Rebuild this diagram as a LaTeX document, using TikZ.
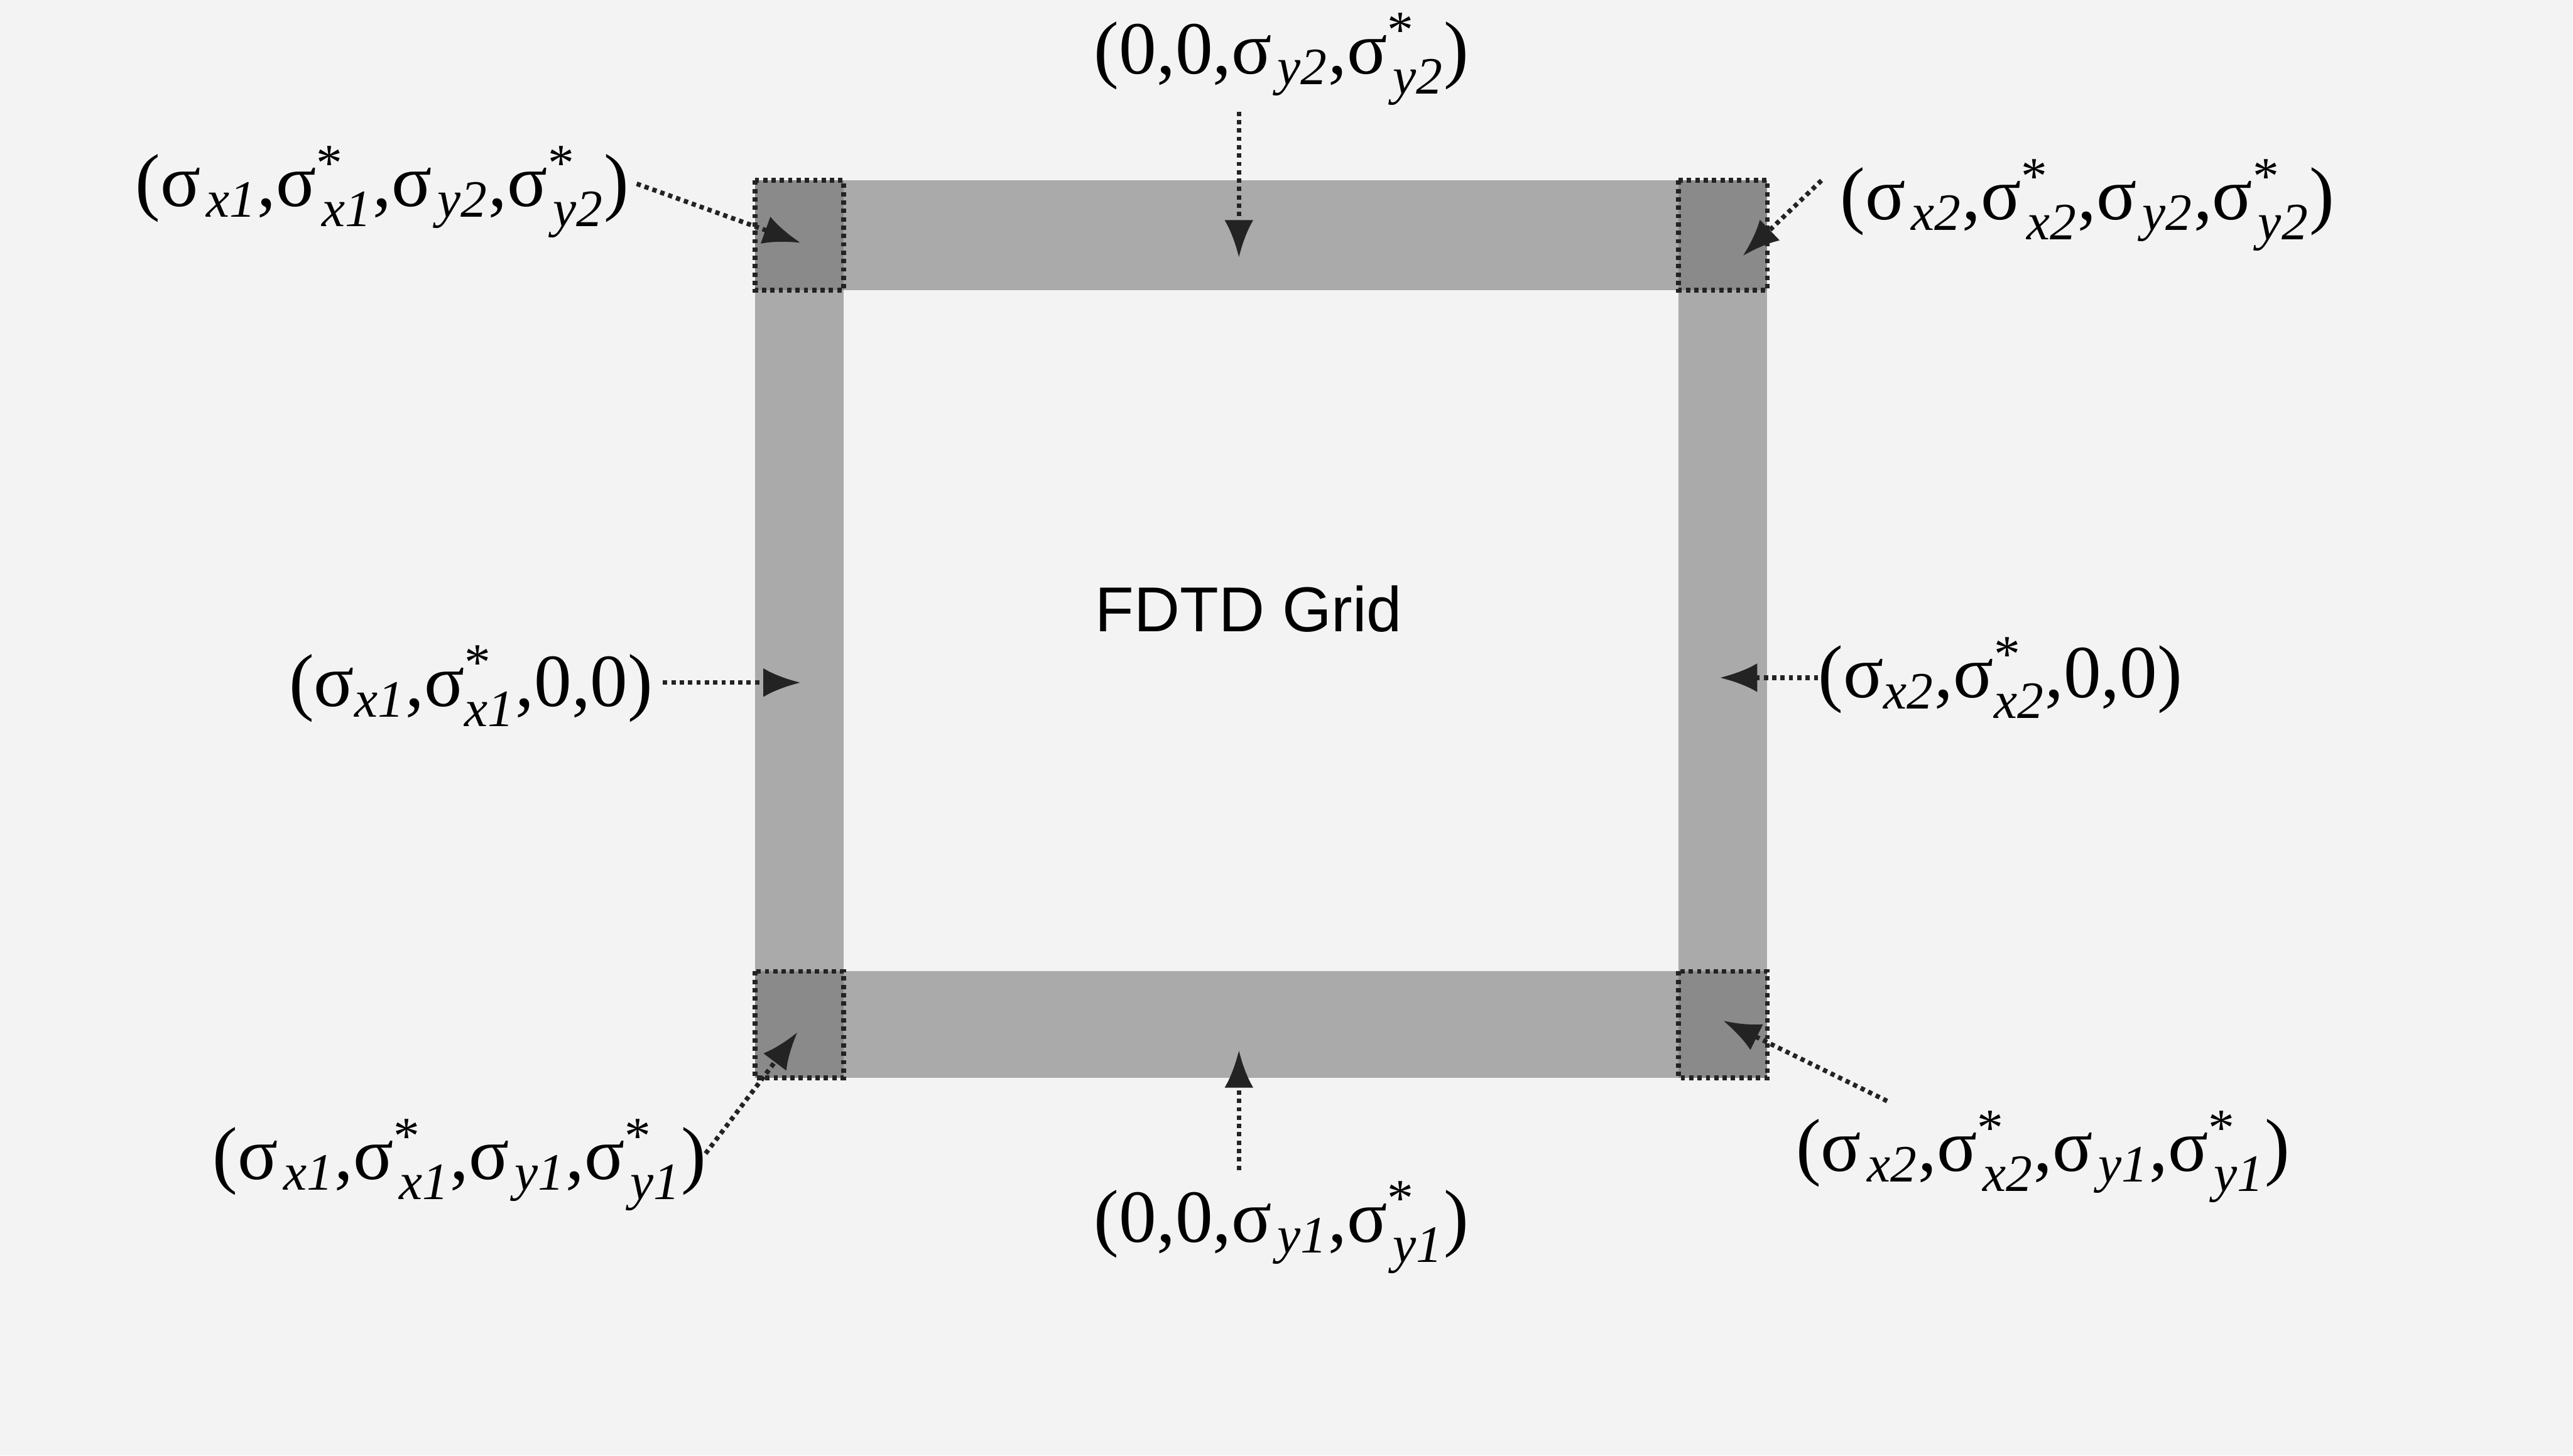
\documentclass[tikz,border=0pt]{standalone}
\usepackage{amsmath}
\usepackage{fontspec}
\setmainfont{Liberation Serif}
\setsansfont{Liberation Sans}
\usetikzlibrary{arrows.meta}
\definecolor{bg}{RGB}{243,243,243}
\definecolor{bandgray}{RGB}{170,170,170}
\definecolor{cornergray}{RGB}{138,138,138}
\definecolor{dotcol}{RGB}{35,35,35}
\newcommand\sgA[1]{$\text{σ}_{\mkern2mu\text{\itshape #1}}$}
\newcommand\sgB[1]{$\text{σ}^{\text{*}}_{\mkern2mu\text{\itshape #1}}$}
\newcommand\sgC[1]{$\text{σ}_{\text{\itshape #1}}$}
\newcommand\sgD[1]{$\text{σ}^{\text{*}}_{\text{\itshape #1}}$}
\begin{document}
\begin{tikzpicture}[x=0.02cm,y=-0.02cm,
  lbl/.style={font=\fontsize{26}{30}\selectfont, inner sep=0pt},
  ttl/.style={font=\sffamily\fontsize{22}{26}\selectfont, inner sep=0pt},
  bandfill/.style={fill=bandgray},
  cornerbox/.style={fill=cornergray, draw=dotcol, line width=1.7pt, dash pattern=on 1.5pt off 1.4pt},
  ptr/.style={draw=dotcol, line width=1.6pt, dash pattern=on 1.5pt off 1.4pt, -{Latex[length=13pt,width=10pt]}}]
\path[fill=bg] (0,0) rectangle (1568,887);
\useasboundingbox (0,0) rectangle (1568,887);
% bands
\path[bandfill] (460,110) rectangle (1077,177);
\path[bandfill] (460,592) rectangle (1077,657);
\path[bandfill] (460,110) rectangle (514,657);
\path[bandfill] (1023,110) rectangle (1077,657);
% corners
\path[cornerbox] (460,110) rectangle (514,177);
\path[cornerbox] (1023,110) rectangle (1077,177);
\path[cornerbox] (460,592) rectangle (514,657);
\path[cornerbox] (1023,592) rectangle (1077,657);
% title
\node[ttl] (title) at (761,371) {FDTD Grid};
% labels
\node[lbl] (lt)  at (781,36)   {(0,0,\sgA{y2},\sgB{y2})};
\node[lbl] (ltl) at (233,117)  {(\sgA{x1},\sgB{x1},\sgA{y2},\sgB{y2})};
\node[lbl] (ltr) at (1272,125) {(\sgA{x2},\sgB{x2},\sgA{y2},\sgB{y2})};
\node[lbl] (ll)  at (287,418)  {(\sgC{x1},\sgD{x1},0,0)};
\node[lbl] (lr)  at (1219,413) {(\sgC{x2},\sgD{x2},0,0)};
\node[lbl] (lbl1) at (280,710)  {(\sgA{x1},\sgB{x1},\sgA{y1},\sgB{y1})};
\node[lbl] (lb)  at (781,748)  {(0,0,\sgA{y1},\sgB{y1})};
\node[lbl] (lbr) at (1245,705) {(\sgA{x2},\sgB{x2},\sgA{y1},\sgB{y1})};
% arrow ends
\coordinate (tS) at (755,68);    \coordinate (tT) at (755,157);
\coordinate (tlS) at (388,112);  \coordinate (tlT) at (488,148);
\coordinate (trS) at (1110,110); \coordinate (trT) at (1062,156);
\coordinate (lS) at (404,416);   \coordinate (lT) at (488,416);
\coordinate (rS) at (1108,413);  \coordinate (rT) at (1048,413);
\coordinate (bS) at (755,713);   \coordinate (bT) at (755,640);
\coordinate (blS) at (430,703);  \coordinate (blT) at (486,629);
\coordinate (brS) at (1150,671); \coordinate (brT) at (1050,622);
\draw[ptr] (tS) -- (tT);
\draw[ptr] (tlS) -- (tlT);
\draw[ptr] (trS) -- (trT);
\draw[ptr] (lS) -- (lT);
\draw[ptr] (rS) -- (rT);
\draw[ptr] (bS) -- (bT);
\draw[ptr] (blS) -- (blT);
\draw[ptr] (brS) -- (brT);
\end{tikzpicture}
\end{document}
